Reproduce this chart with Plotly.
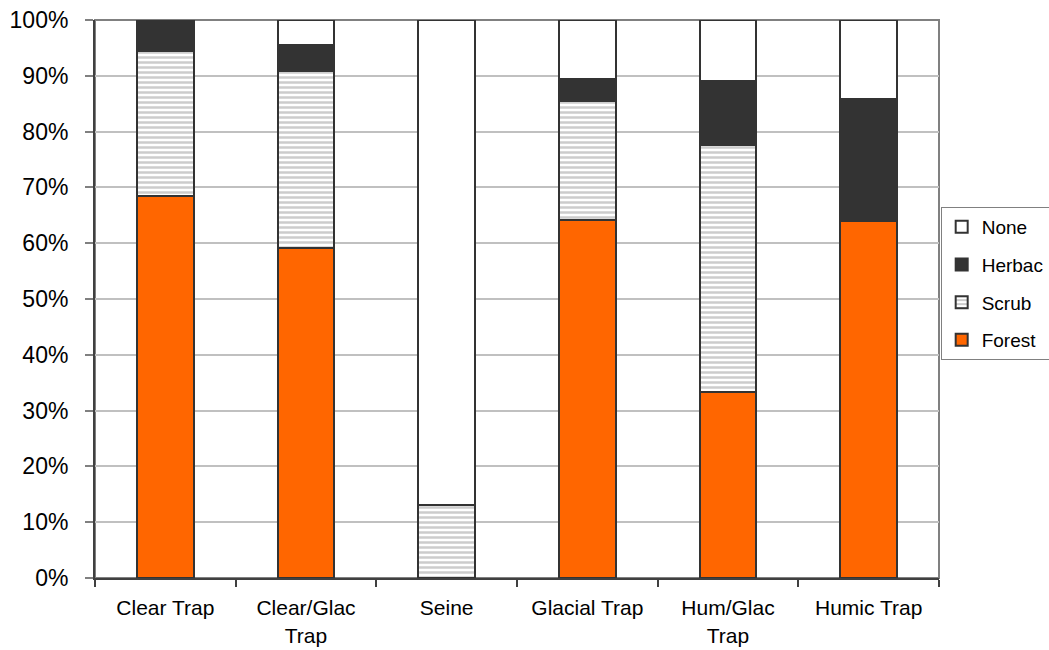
import plotly.graph_objects as go

# Share of each habitat type per sampling method (%)
categories = ["Clear Trap", "Clear/Glac<br>Trap", "Seine", "Glacial Trap", "Hum/Glac<br>Trap", "Humic Trap"]
forest = [68.5, 59.2, 0.0, 64.2, 33.4, 64.0]
scrub = [25.9, 31.7, 13.0, 21.3, 44.2, 0.0]
herbac = [5.6, 4.6, 0.0, 3.9, 11.5, 21.8]
none = [0.0, 4.5, 87.0, 10.6, 10.9, 14.2]

outline = dict(color="#333333", width=2)
family = "Liberation Sans, Arial, sans-serif"

fig = go.Figure()
fig.add_trace(go.Bar(name="Forest", x=categories, y=forest, legendgroup="f", legendrank=4,
                     marker=dict(color="#FF6600", line=outline)))
fig.add_trace(go.Bar(name="Scrub", x=categories, y=scrub, legendgroup="s", legendrank=3,
                     marker=dict(color="#FFFFFF", line=outline,
                                 pattern=dict(shape="-", fgcolor="#999999", bgcolor="#FFFFFF",
                                              size=5, solidity=0.5))))
fig.add_trace(go.Bar(name="Herbac", x=categories, y=herbac, legendgroup="h", legendrank=2,
                     marker=dict(color="#333333", line=outline)))
fig.add_trace(go.Bar(name="None", x=categories, y=none, legendgroup="n", legendrank=1,
                     marker=dict(color="#FFFFFF", line=outline)))

fig.update_layout(
    barmode="stack",
    bargap=0.595,
    width=1049, height=650,
    margin=dict(l=95, r=110, t=20, b=72, autoexpand=False),
    plot_bgcolor="#FFFFFF", paper_bgcolor="#FFFFFF",
    font=dict(family=family, size=21, color="#000000"),
    legend=dict(traceorder="grouped", tracegroupgap=10,
                x=1.002, xanchor="left", y=0.528, yanchor="middle",
                bordercolor="#808080", borderwidth=1, bgcolor="#FFFFFF",
                font=dict(family=family, size=19, color="#000000"),
                itemwidth=30),
    shapes=[dict(type="rect", xref="paper", yref="paper", x0=0, x1=1, y0=0, y1=1,
                 line=dict(color="#808080", width=2), layer="below")],
)
fig.update_yaxes(range=[0, 100], dtick=10, ticksuffix="%", showgrid=True,
                 gridcolor="#c0c0c0", gridwidth=2, zeroline=False,
                 showline=True, linecolor="#404040", linewidth=2,
                 ticks="outside", ticklen=8, tickcolor="#808080", tickwidth=2,
                 ticklabelstandoff=12, tickfont=dict(family=family, size=23),
                 fixedrange=True)
fig.update_xaxes(showline=True, linecolor="#404040", linewidth=2,
                 ticks="outside", tickson="boundaries", ticklen=7,
                 tickcolor="#404040", tickwidth=2, showgrid=False,
                 ticklabelstandoff=10, tickfont=dict(family=family, size=21),
                 fixedrange=True)

fig.write_html("out.html")
